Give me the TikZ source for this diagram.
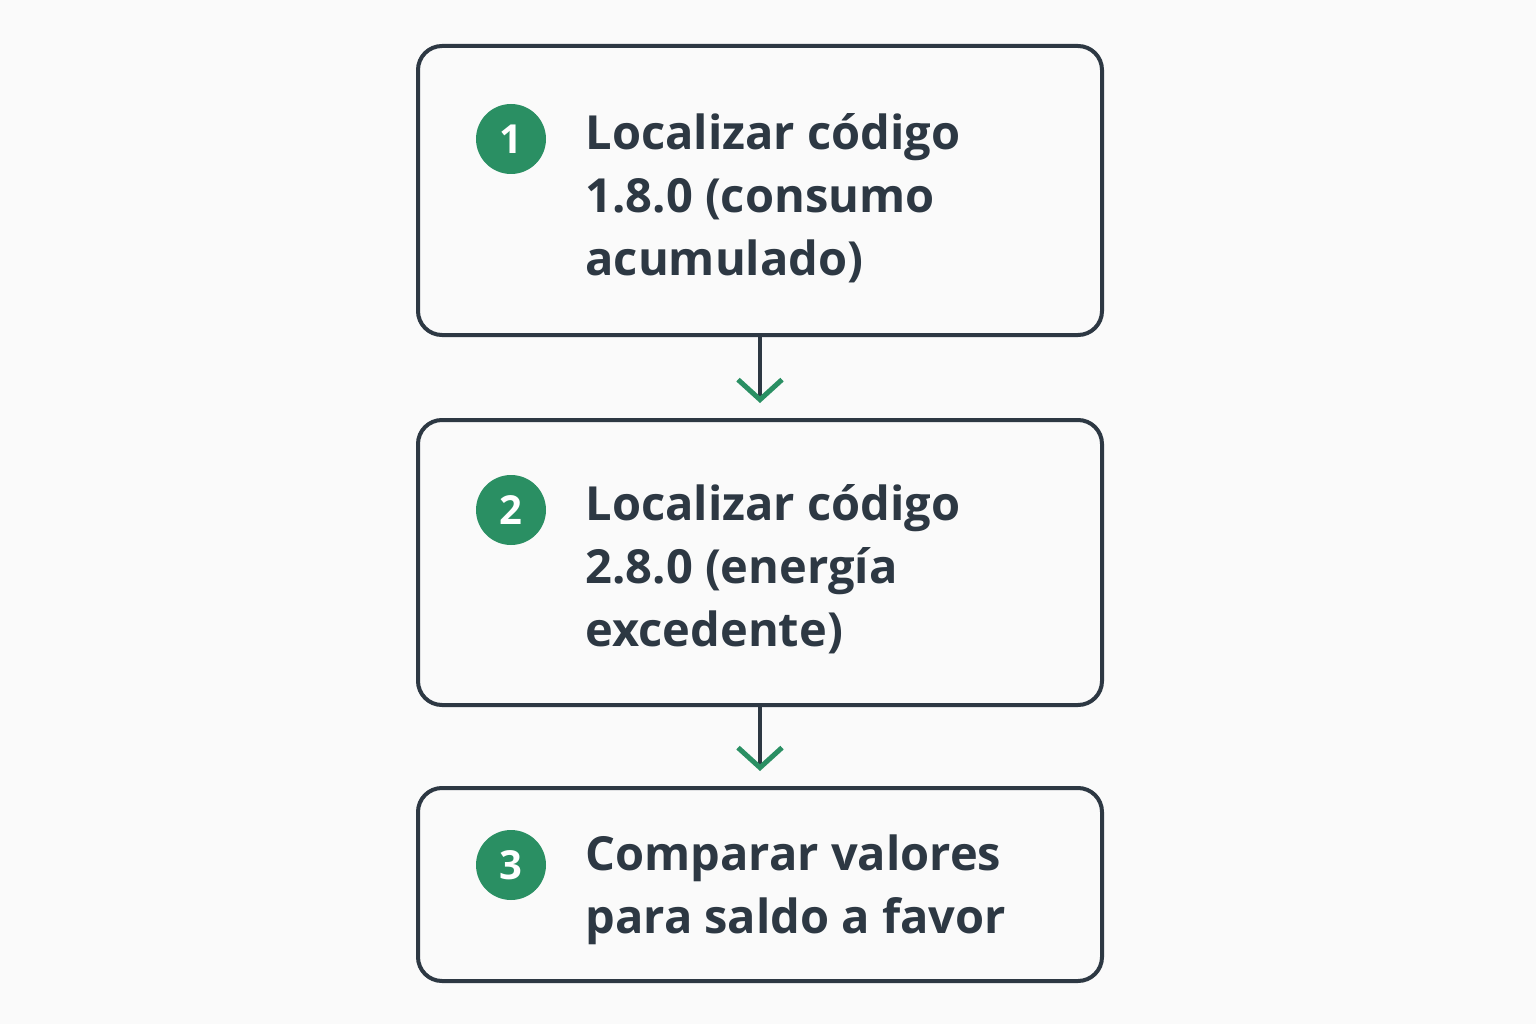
\documentclass[tikz,border=0pt]{standalone}
\usepackage{fontspec}
\setmainfont{Open Sans}
\usetikzlibrary{arrows.meta}
\definecolor{dark}{HTML}{2D3843}
\definecolor{grn}{HTML}{2A8F63}
\definecolor{bg}{HTML}{FAFAFA}
\begin{document}
\begin{tikzpicture}[x=1pt,y=-1pt,
  box/.style={draw=dark,line width=4pt,rounded corners=24pt,minimum width=684pt,inner sep=0pt},
  num/.style={circle,fill=grn,minimum size=70pt,inner sep=0pt,text=white,font=\fontsize{40}{40}\selectfont\bfseries},
  lbl/.style={anchor=west,align=left,text=dark,font=\fontsize{47}{63}\selectfont\bfseries},
  conn/.style={draw=dark,line width=4pt,shorten >=15pt,-{Straight Barb[color=grn,length=20pt,width=44pt,line width=5pt]}}]
\fill[bg] (0,0) rectangle (1536,1024);
\useasboundingbox (0,0) rectangle (1536,1024);
\node[box,minimum height=289pt] (b1) at (760,190.5) {};
\node[box,minimum height=285pt] (b2) at (760,562.5) {};
\node[box,minimum height=193pt] (b3) at (760,884.5) {};
\node[num] (n1) at (511,139) {1};
\node[num] (n2) at (511,510) {2};
\node[num] (n3) at (511,865) {3};
\node[lbl] (t1) at (582,198) {Localizar código\\1.8.0 (consumo\\acumulado)};
\node[lbl] (t2) at (582,569) {Localizar código\\2.8.0 (energía\\excedente)};
\node[lbl] (t3) at (582,890) {Comparar valores\\para saldo a favor};
\draw[conn] (b1.south) -- (b2.north);
\draw[conn] (b2.south) -- (b3.north);
\end{tikzpicture}
\end{document}
